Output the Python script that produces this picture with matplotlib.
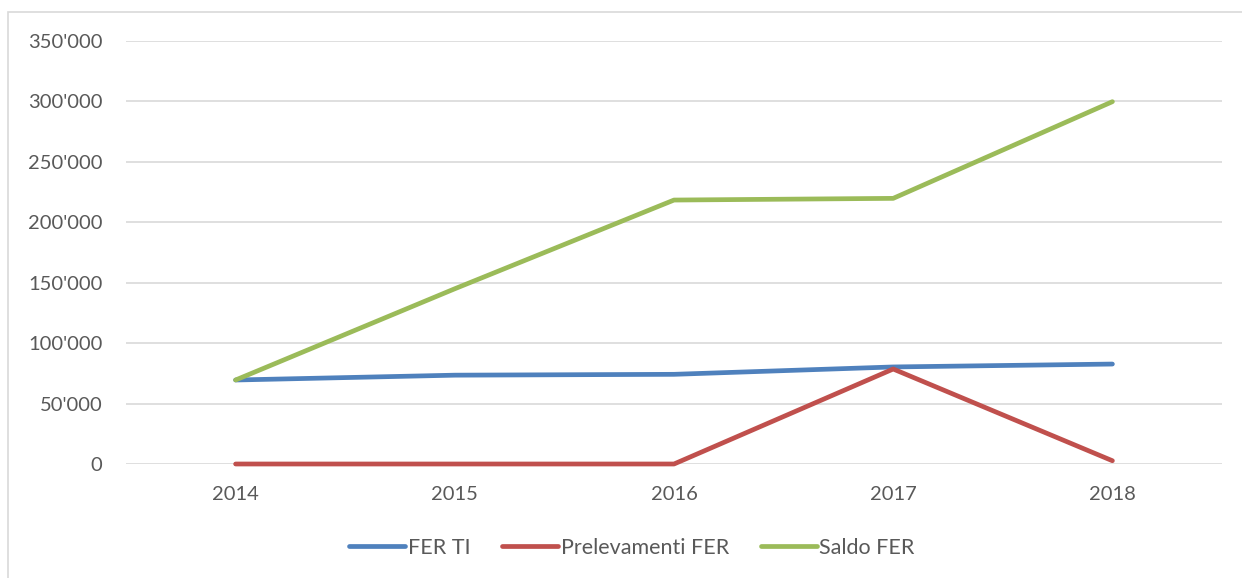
import matplotlib.pyplot as plt
from matplotlib.patches import Rectangle
from matplotlib.ticker import FuncFormatter

years = ["2014", "2015", "2016", "2017", "2018"]
fer_ti = [69500, 73500, 74200, 80300, 82700]
prelevamenti = [0, 0, 0, 78600, 2700]
saldo = [69500, 145000, 218400, 219800, 299800]

series = [
    ("FER TI", fer_ti, "#4F81BD"),
    ("Prelevamenti FER", prelevamenti, "#C0504D"),
    ("Saldo FER", saldo, "#9BBB59"),
]

W, H = 1242, 578
fig = plt.figure(figsize=(W / 100, H / 100), dpi=100)
plt.rcParams["font.family"] = ["Lato", "DejaVu Sans"]

# outer chart border (extends past the image on right and bottom)
fig.patches.append(Rectangle((8 / W, -0.1), 1.2, 1 - 12 / H + 0.1,
                             transform=fig.transFigure, fill=False,
                             edgecolor="#D9D9D9", linewidth=1.2))

ax = fig.add_axes([126 / W, 1 - 464 / H, (1222 - 126) / W, (464 - 41) / H])

x = range(len(years))
for name, vals, color in series:
    ax.plot(x, vals, color=color, linewidth=3.4, label=name, clip_on=False,
            solid_capstyle="round", solid_joinstyle="round")

ax.set_xlim(-0.5, len(years) - 0.5)
ax.set_ylim(0, 350000)
ax.set_yticks(range(0, 350001, 50000))
ax.yaxis.set_major_formatter(FuncFormatter(lambda v, p: f"{int(v):,}".replace(",", "'")))
ax.set_xticks(list(x))
ax.set_xticklabels(years)

ax.grid(axis="y", color="#D9D9D9", linewidth=1.2)
ax.set_axisbelow(True)
for s in ax.spines.values():
    s.set_visible(False)
ax.tick_params(length=0, labelsize=14.5, colors="#595959")
ax.tick_params(axis="y", pad=17)
ax.tick_params(axis="x", pad=16)

leg = ax.legend(loc="center", bbox_to_anchor=((632 - 126) / 1096, (464 - 548) / (464 - 41)),
                ncol=3, frameon=False, fontsize=15.5, handlelength=2.6,
                handletextpad=0.1, columnspacing=1.5)
for t in leg.get_texts():
    t.set_color("#595959")

fig.savefig("out.png", dpi=100)
